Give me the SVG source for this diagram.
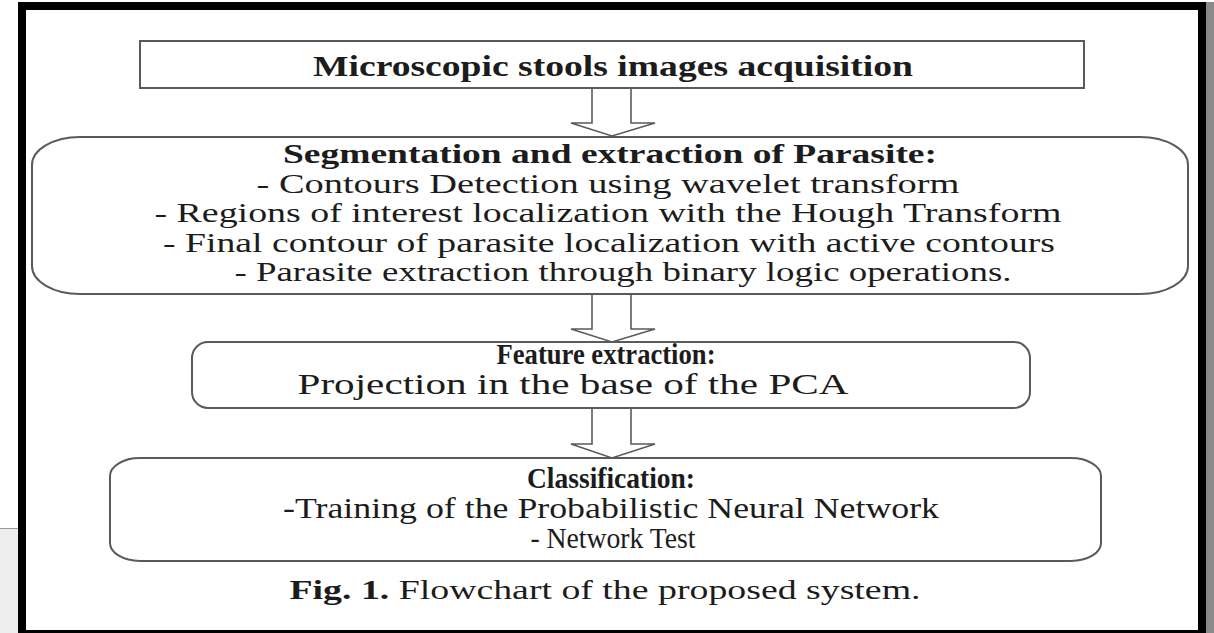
<svg xmlns="http://www.w3.org/2000/svg" width="1214" height="633" viewBox="0 0 1214 633">
<style>
.box{fill:#fff;stroke:#5a5a5a;stroke-width:2}
.arr{fill:#fff;stroke:#5a5a5a;stroke-width:1.6;stroke-linejoin:miter}
text{font-family:"Liberation Serif","Times New Roman",serif;fill:#1c1c1c;text-anchor:middle}
.b{font-weight:bold}
.t1{font-size:30px}
.t2{font-size:28px}
.t3{font-size:29px}
.t4{font-size:27px}
</style>
<rect x="0" y="0" width="1214" height="633" fill="#fff"/>
<rect x="0" y="528" width="18" height="105" fill="#eeeeee"/>
<line x1="0" y1="528.5" x2="18" y2="528.5" stroke="#9a9a9a" stroke-width="1"/>
<rect x="1206" y="2" width="8" height="631" fill="#8a8a8a"/>
<rect x="18" y="2" width="1188" height="631" fill="#000"/>
<rect x="26" y="10" width="1172" height="620" fill="#fff"/>
<g id="connectors">
<path class="arr" d="M592,88 V123 H571 L612,136 L655,123 H631 V88"/>
<path class="arr" d="M592,295 V329 H571 L612,342 L655,329 H631 V295"/>
<path class="arr" d="M592,409 V444 H571 L612,458 L655,444 H631 V409"/>
</g>
<g id="acquisition">
<rect class="box" x="140" y="41" width="944" height="47"/>
<text class="b t1" x="613" y="76" textLength="600" lengthAdjust="spacingAndGlyphs">Microscopic stools images acquisition</text>
</g>
<g id="segmentation">
<path class="box" d="M80,137 H1140 A48,28 0 0 1 1188,165 V266 A48,28 0 0 1 1140,294 H80 A48,28 0 0 1 32,266 V165 A48,28 0 0 1 80,137 Z"/>
<text class="b t2" x="610" y="163" textLength="654" lengthAdjust="spacingAndGlyphs">Segmentation and extraction of Parasite:</text>
<text class="t2" x="608" y="193" textLength="703" lengthAdjust="spacingAndGlyphs">- Contours Detection using wavelet transform</text>
<text class="t2" x="608" y="222" textLength="907" lengthAdjust="spacingAndGlyphs">- Regions of interest localization with the Hough Transform</text>
<text class="t2" x="609" y="252" textLength="892" lengthAdjust="spacingAndGlyphs">- Final contour of parasite localization with active contours</text>
<text class="t2" x="623" y="281" textLength="777" lengthAdjust="spacingAndGlyphs">- Parasite extraction through binary logic operations.</text>
</g>
<g id="feature">
<rect class="box" x="192" y="342" width="838" height="66" rx="16" ry="16"/>
<text class="b t3" x="606" y="364" textLength="219" lengthAdjust="spacingAndGlyphs">Feature extraction:</text>
<text class="t3" x="573" y="394" textLength="551" lengthAdjust="spacingAndGlyphs">Projection in the base of the PCA</text>
</g>
<g id="classification">
<rect class="box" x="110" y="458" width="991" height="103" rx="30" ry="18"/>
<text class="b t3" x="611" y="488" textLength="168" lengthAdjust="spacingAndGlyphs">Classification:</text>
<text class="t3" x="611" y="518" textLength="656" lengthAdjust="spacingAndGlyphs">-Training of the Probabilistic Neural Network</text>
<text class="t3" x="613" y="548" textLength="165" lengthAdjust="spacingAndGlyphs">- Network Test</text>
</g>
<g id="caption">
<text class="t4" x="605" y="599" textLength="631" lengthAdjust="spacingAndGlyphs"><tspan class="b">Fig. 1.</tspan> Flowchart of the proposed system.</text>
</g>
</svg>
